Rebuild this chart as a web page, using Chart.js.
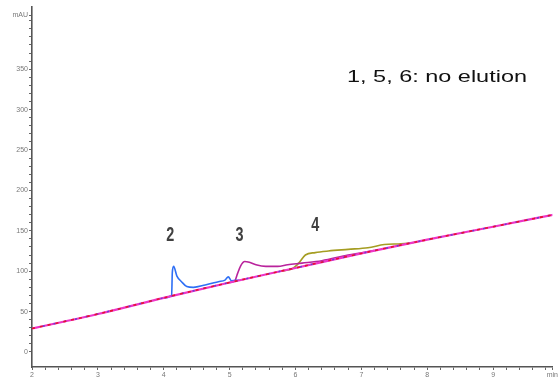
<!DOCTYPE html>
<html>
<head>
<meta charset="utf-8">
<script src="https://cdn.jsdelivr.net/npm/chart.js@4/dist/chart.umd.min.js"></script>
<style>
  html, body { margin: 0; padding: 0; background: #fff; }
  #wrap { width: 559px; height: 382px; }
</style>
</head>
<body>
<div id="wrap"><canvas id="myChart" width="559" height="382"></canvas></div>
<script>
// baseline shared by runs 1, 5, 6 (no elution)
const baseTimes = [2, 3, 4, 5, 6, 7, 8, 9, 9.92];
const baseValues = [29, 47, 67, 86, 104, 122, 139, 155, 170];

// run 2 (blue) - only where it leaves the baseline
const run2Times = [4.0, 4.12, 4.13, 4.15, 4.2, 4.27, 4.35, 4.45, 4.63, 4.83, 4.93, 4.98, 5.03, 5.15];
const run2Values = [67, 70, 98, 106, 94, 87, 81, 80, 83, 87, 89, 93, 88, 89];

// run 3 (magenta)
const run3Times = [5.0, 5.08, 5.12, 5.17, 5.23, 5.3, 5.4, 5.55, 5.73, 5.88, 6.1, 6.4, 6.8, 7.2];
const run3Values = [86, 88, 97, 107, 112, 111, 108, 106, 106, 108, 110, 113, 120, 125.5];

// run 4 (olive)
const run4Times = [5.8, 5.95, 6.05, 6.15, 6.3, 6.5, 6.8, 7.1, 7.35, 7.6, 7.8];
const run4Values = [100.5, 103, 110, 120, 123, 125, 127, 129, 133, 134, 135.5];

// peak labels
const peakLabels = ["2", "3", "4"];
const peakLabelTimes = [4.10, 5.15, 6.30];
const peakLabelValues = [144, 144, 157];
const noteText = "1, 5, 6: no elution";

const xTickLabels = ["2", "3", "4", "5", "6", "7", "8", "9"];
const yTickLabels = ["0", "50", "100", "150", "200", "250", "300", "350"];

function pts(ts, vs) {
  return ts.map((t, i) => ({ x: t, y: vs[i] }));
}

const textPlugin = {
  id: "texts",
  afterDatasetsDraw(chart) {
    const ctx = chart.ctx;
    const xs = chart.scales.x, ys = chart.scales.y;
    ctx.save();
    ctx.fillStyle = "#404040";
    ctx.textAlign = "center";
    ctx.textBaseline = "middle";
    ctx.font = "bold 20px 'Liberation Sans', Arial, sans-serif";
    peakLabels.forEach((lab, i) => {
      ctx.save();
      ctx.translate(xs.getPixelForValue(peakLabelTimes[i]), ys.getPixelForValue(peakLabelValues[i]));
      ctx.scale(0.72, 1);
      ctx.fillText(lab, 0, 0);
      ctx.restore();
    });
    ctx.restore();

    ctx.save();
    ctx.fillStyle = "#111";
    ctx.textAlign = "left";
    ctx.textBaseline = "alphabetic";
    ctx.font = "17px 'Liberation Sans', Arial, sans-serif";
    ctx.translate(347, 82);
    ctx.scale(1.38, 1);
    ctx.fillText(noteText, 0, 0);
    ctx.restore();
  }
};

window.addEventListener("load", function () {
  const data = {
    datasets: [
      {
        label: "1",
        data: pts(baseTimes, baseValues),
        borderColor: "#e5132f",
        borderWidth: 1.6,
        borderDash: [3, 5],
      },
      {
        label: "6",
        data: pts(baseTimes, baseValues),
        borderColor: "#6a3fd0",
        borderWidth: 1.5,
        borderDash: [2, 9],
      },
      {
        label: "5",
        data: pts(baseTimes, baseValues),
        borderColor: "#ee35c8",
        borderWidth: 2.2,
      },
      {
        label: "2",
        data: pts(run2Times, run2Values),
        borderColor: "#2e6ff5",
        borderWidth: 1.6,
      },
      {
        label: "3",
        data: pts(run3Times, run3Values),
        borderColor: "#b9239c",
        borderWidth: 1.6,
      },
      {
        label: "4",
        data: pts(run4Times, run4Values),
        borderColor: "#a59d22",
        borderWidth: 1.6,
      },
    ],
  };

  const tickFont = { family: "'Liberation Sans', Arial, sans-serif", size: 7 };

  const config = {
    type: "line",
    data,
    options: {
      responsive: false,
      animation: false,
      layout: { padding: { top: 7, right: 2, left: 0, bottom: 0 } },
      elements: {
        point: { radius: 0 },
        line: { cubicInterpolationMode: "monotone", fill: false },
      },
      plugins: {
        legend: { display: false },
        tooltip: { enabled: false },
      },
      scales: {
        x: {
          type: "linear",
          min: 2,
          max: 9.9,
          afterBuildTicks: (scale) => {
            const t = [];
            for (let i = 0; i <= 39; i++) t.push({ value: Math.round((2 + i * 0.2) * 10) / 10 });
            t.push({ value: 9.9 });
            scale.ticks = t;
          },
          afterFit: (scale) => { scale.height = 15; },
          border: { color: "#555", width: 1.6 },
          grid: { drawOnChartArea: false, drawTicks: true, tickLength: 3, tickColor: "#666" },
          ticks: {
            autoSkip: false,
            maxRotation: 0,
            padding: 1,
            color: "#777",
            font: tickFont,
            callback: (v) => {
              if (v === 9.9) return "min";
              const k = xTickLabels.indexOf(String(v));
              return k >= 0 ? xTickLabels[k] : "";
            },
          },
        },
        y: {
          type: "linear",
          min: -18.6,
          max: 427,
          afterBuildTicks: (scale) => {
            const t = [];
            for (let v = 0; v <= 410; v += 10) t.push({ value: v });
            t.push({ value: 417 });
            scale.ticks = t;
          },
          afterFit: (scale) => { scale.width = 32; },
          border: { color: "#555", width: 1.6 },
          grid: { drawOnChartArea: false, drawTicks: true, tickLength: 3, tickColor: "#666" },
          ticks: {
            autoSkip: false,
            padding: 1,
            color: "#777",
            font: tickFont,
            callback: (v) => {
              if (v === 417) return "mAU";
              const k = yTickLabels.indexOf(String(v));
              return k >= 0 ? yTickLabels[k] : "";
            },
          },
        },
      },
    },
    plugins: [textPlugin],
  };

  const myChart = new Chart(document.getElementById("myChart"), config);
});
</script>
</body>
</html>
